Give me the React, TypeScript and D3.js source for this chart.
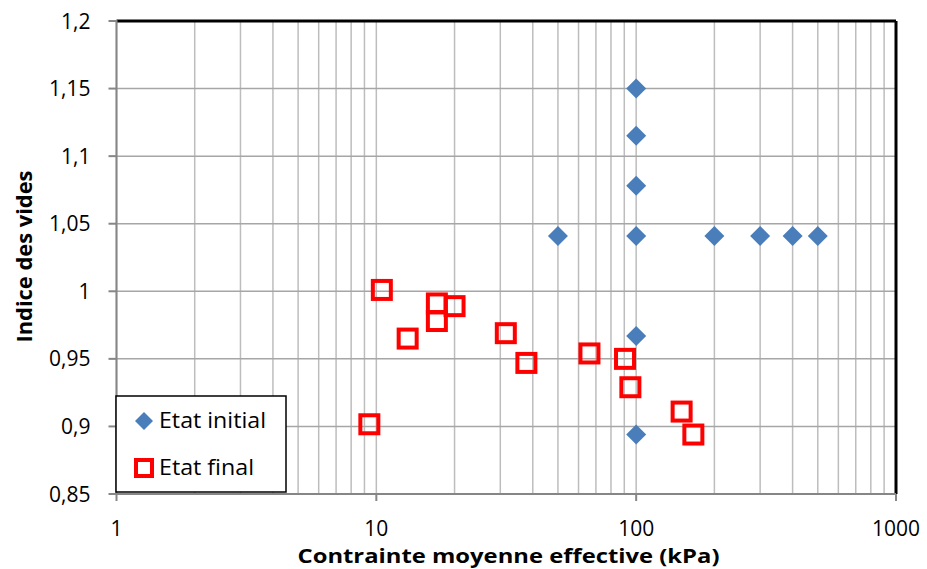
import React from "react";
import * as d3 from "d3";

const initialX = [100, 100, 100, 100, 100, 100, 50, 200, 300, 400, 500];
const initialY = [1.15, 1.115, 1.078, 1.041, 0.967, 0.894, 1.041, 1.041, 1.041, 1.041, 1.041];

const finalX = [10.5, 17.1, 17.1, 20.0, 13.2, 31.5, 37.8, 66.1, 90.6, 95, 9.4, 149.6, 166];
const finalY = [1.001, 0.991, 0.978, 0.989, 0.965, 0.969, 0.947, 0.954, 0.95, 0.929, 0.9016, 0.911, 0.894];

const yTicks = [0.85, 0.9, 0.95, 1, 1.05, 1.1, 1.15, 1.2];
const xTicks = [1, 10, 100, 1000];
const legendLabels = ["Etat initial", "Etat final"];
const xTitle = "Contrainte moyenne effective (kPa)";
const yTitle = "Indice des vides";

const W = 927;
const H = 569;
const L = 116.5, R = 896, T = 21, B = 494;
const FONT = "'Open Sans', sans-serif";
const BLUE = "#4a7ebb";
const RED = "#ff0000";

const fmtY = (v: number) => String(+v.toFixed(2)).replace(".", ",");

export default function App() {
  const x = d3.scaleLog().domain([1, 1000]).range([L, R]);
  const y = d3.scaleLinear().domain([0.85, 1.2]).range([B, T]);

  const minor: number[] = [];
  for (let dec = 1; dec < 1000; dec *= 10) {
    for (let k = 2; k <= 9; k++) minor.push(dec * k);
  }

  const diamond = (cx: number, cy: number, r: number) =>
    `M${cx},${cy - r}L${cx + r},${cy}L${cx},${cy + r}L${cx - r},${cy}Z`;

  return (
    <svg
      width={W}
      height={H}
      style={{ position: "absolute", left: 0, top: 0, background: "#fff" }}
      fontFamily={FONT}
    >
      <rect x={0} y={0} width={W} height={H} fill="#fff" />
      {minor.map((v) => (
        <line key={"mx" + v} x1={x(v)} x2={x(v)} y1={T} y2={B} stroke="#bdbdbd" strokeWidth={1.5} />
      ))}
      {xTicks.map((v) => (
        <line key={"gx" + v} x1={x(v)} x2={x(v)} y1={T} y2={B} stroke="#bdbdbd" strokeWidth={1.5} />
      ))}
      {yTicks.map((v) => (
        <line key={"gy" + v} x1={L} x2={R} y1={y(v)} y2={y(v)} stroke="#a6a6a6" strokeWidth={1.5} />
      ))}
      <line x1={L} x2={R} y1={T} y2={T} stroke="#000" strokeWidth={3} />
      <line x1={R} x2={R} y1={T} y2={B} stroke="#000" strokeWidth={3} />
      <line x1={L} x2={L} y1={T - 1} y2={B} stroke="#868686" strokeWidth={2} />
      <line x1={L} x2={R} y1={B} y2={B} stroke="#868686" strokeWidth={2} />
      {yTicks.map((v) => (
        <line key={"ty" + v} x1={L - 8} x2={L} y1={y(v)} y2={y(v)} stroke="#868686" strokeWidth={2} />
      ))}
      {xTicks.map((v) => (
        <line key={"tx" + v} x1={x(v)} x2={x(v)} y1={B} y2={B + 7} stroke="#868686" strokeWidth={2} />
      ))}
      {yTicks.map((v) => (
        <text key={"ly" + v} x={L - 26} y={y(v)} dy="0.36em" textAnchor="end" fontSize={21} fill="#000">
          {fmtY(v)}
        </text>
      ))}
      {xTicks.map((v) => (
        <text key={"lx" + v} x={x(v)} y={535.5} textAnchor="middle" fontSize={21} fill="#000">
          {v}
        </text>
      ))}
      <text
        x={508.5}
        y={563}
        textAnchor="middle"
        fontSize={19.5}
        fontWeight="bold"
        fill="#000"
        textLength={422}
        lengthAdjust="spacingAndGlyphs"
      >
        {xTitle}
      </text>
      <text
        transform={`translate(32, 256.5) rotate(-90)`}
        textAnchor="middle"
        fontSize={20.5}
        fontWeight="bold"
        fill="#000"
        textLength={172}
        lengthAdjust="spacingAndGlyphs"
      >
        {yTitle}
      </text>
      {initialX.map((v, i) => (
        <path key={"i" + i} d={diamond(x(v), y(initialY[i]), 10)} fill={BLUE} />
      ))}
      {finalX.map((v, i) => (
        <rect
          key={"f" + i}
          x={x(v) - 9}
          y={y(finalY[i]) - 9}
          width={18}
          height={18}
          fill="none"
          stroke={RED}
          strokeWidth={4}
        />
      ))}
      <rect x={116} y={396} width={170} height={96} fill="#fff" stroke="#000" strokeWidth={1.5} />
      <path d={diamond(144, 421, 9)} fill={BLUE} />
      <text x={159} y={428} fontSize={21.5} fill="#000" textLength={107} lengthAdjust="spacingAndGlyphs">
        {legendLabels[0]}
      </text>
      <rect x={136} y={460} width={16} height={16} fill="none" stroke={RED} strokeWidth={4} />
      <text x={159} y={475} fontSize={21.5} fill="#000" textLength={95} lengthAdjust="spacingAndGlyphs">
        {legendLabels[1]}
      </text>
    </svg>
  );
}
